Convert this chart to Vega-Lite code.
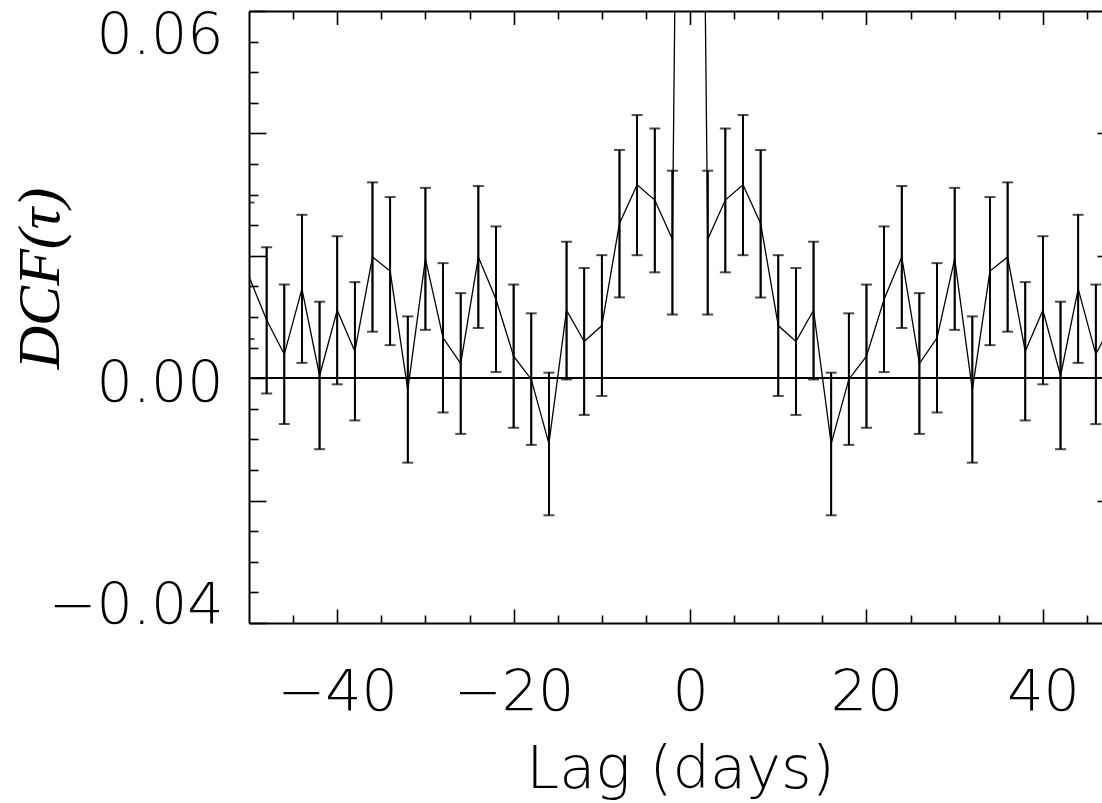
{
  "$schema": "https://vega.github.io/schema/vega-lite/v6.json",
  "width": 853,
  "height": 612,
  "autosize": {"type": "none"},
  "padding": {"left": 249, "top": 11, "right": 0, "bottom": 180},
  "background": "white",
  "config": {
    "view": {"stroke": null},
    "axis": {"domainColor": "black", "tickColor": "black", "labelColor": "black", "titleColor": "black", "grid": false, "domainWidth": 2, "tickWidth": 1.6, "zindex": 1}
  },
  "data": {
    "values": [
      {"lag": -50, "dcf": 0.0166, "lo": 0.0064, "hi": 0.0287},
      {"lag": -48, "dcf": 0.0095, "lo": -0.0025, "hi": 0.0214},
      {"lag": -46, "dcf": 0.0039, "lo": -0.0075, "hi": 0.0153},
      {"lag": -44, "dcf": 0.0146, "lo": 0.0025, "hi": 0.0267},
      {"lag": -42, "dcf": 0.0004, "lo": -0.0116, "hi": 0.0125},
      {"lag": -40, "dcf": 0.0111, "lo": -0.0010, "hi": 0.0232},
      {"lag": -38, "dcf": 0.0044, "lo": -0.0069, "hi": 0.0157},
      {"lag": -36, "dcf": 0.0198, "lo": 0.0076, "hi": 0.0320},
      {"lag": -34, "dcf": 0.0175, "lo": 0.0054, "hi": 0.0296},
      {"lag": -32, "dcf": -0.0019, "lo": -0.0138, "hi": 0.0101},
      {"lag": -30, "dcf": 0.0195, "lo": 0.0079, "hi": 0.0311},
      {"lag": -28, "dcf": 0.0066, "lo": -0.0056, "hi": 0.0188},
      {"lag": -26, "dcf": 0.0024, "lo": -0.0091, "hi": 0.0139},
      {"lag": -24, "dcf": 0.0198, "lo": 0.0082, "hi": 0.0314},
      {"lag": -22, "dcf": 0.0129, "lo": 0.0010, "hi": 0.0248},
      {"lag": -20, "dcf": 0.0036, "lo": -0.0081, "hi": 0.0153},
      {"lag": -18, "dcf": -0.0002, "lo": -0.0109, "hi": 0.0106},
      {"lag": -16, "dcf": -0.0107, "lo": -0.0224, "hi": 0.0009},
      {"lag": -14, "dcf": 0.0111, "lo": -0.0002, "hi": 0.0223},
      {"lag": -12, "dcf": 0.0060, "lo": -0.0060, "hi": 0.0180},
      {"lag": -10, "dcf": 0.0086, "lo": -0.0029, "hi": 0.0201},
      {"lag": -8, "dcf": 0.0253, "lo": 0.0132, "hi": 0.0373},
      {"lag": -6, "dcf": 0.0316, "lo": 0.0201, "hi": 0.0430},
      {"lag": -4, "dcf": 0.0291, "lo": 0.0173, "hi": 0.0408},
      {"lag": -2, "dcf": 0.0227, "lo": 0.0104, "hi": 0.0339},
      {"lag": 0, "dcf": 0.30, "lo": 0.27, "hi": 0.33},
      {"lag": 2, "dcf": 0.0227, "lo": 0.0104, "hi": 0.0339},
      {"lag": 4, "dcf": 0.0291, "lo": 0.0173, "hi": 0.0408},
      {"lag": 6, "dcf": 0.0316, "lo": 0.0201, "hi": 0.0430},
      {"lag": 8, "dcf": 0.0253, "lo": 0.0132, "hi": 0.0373},
      {"lag": 10, "dcf": 0.0086, "lo": -0.0029, "hi": 0.0201},
      {"lag": 12, "dcf": 0.0060, "lo": -0.0060, "hi": 0.0180},
      {"lag": 14, "dcf": 0.0111, "lo": -0.0002, "hi": 0.0223},
      {"lag": 16, "dcf": -0.0107, "lo": -0.0224, "hi": 0.0009},
      {"lag": 18, "dcf": -0.0002, "lo": -0.0109, "hi": 0.0106},
      {"lag": 20, "dcf": 0.0036, "lo": -0.0081, "hi": 0.0153},
      {"lag": 22, "dcf": 0.0129, "lo": 0.0010, "hi": 0.0248},
      {"lag": 24, "dcf": 0.0198, "lo": 0.0082, "hi": 0.0314},
      {"lag": 26, "dcf": 0.0024, "lo": -0.0091, "hi": 0.0139},
      {"lag": 28, "dcf": 0.0066, "lo": -0.0056, "hi": 0.0188},
      {"lag": 30, "dcf": 0.0195, "lo": 0.0079, "hi": 0.0311},
      {"lag": 32, "dcf": -0.0019, "lo": -0.0138, "hi": 0.0101},
      {"lag": 34, "dcf": 0.0175, "lo": 0.0054, "hi": 0.0296},
      {"lag": 36, "dcf": 0.0198, "lo": 0.0076, "hi": 0.0320},
      {"lag": 38, "dcf": 0.0044, "lo": -0.0069, "hi": 0.0157},
      {"lag": 40, "dcf": 0.0111, "lo": -0.0010, "hi": 0.0232},
      {"lag": 42, "dcf": 0.0004, "lo": -0.0116, "hi": 0.0125},
      {"lag": 44, "dcf": 0.0146, "lo": 0.0025, "hi": 0.0267},
      {"lag": 46, "dcf": 0.0039, "lo": -0.0075, "hi": 0.0153},
      {"lag": 48, "dcf": 0.0095, "lo": -0.0025, "hi": 0.0214}
    ]
  },
  "resolve": {"scale": {"x": "shared", "y": "shared"}, "axis": {"x": "independent", "y": "independent"}},
  "layer": [
    {
      "mark": {"type": "rule", "color": "black", "strokeWidth": 1.8, "clip": true},
      "encoding": {
        "x": {"field": "lag", "type": "quantitative", "scale": {"domain": [-50, 46.7], "nice": false, "zero": false},
          "axis": {"orient": "bottom", "values": [-45, -35, -30, -25, -15, -10, -5, 5, 10, 15, 25, 30, 35, 45], "tickSize": -8, "labels": false, "domain": true, "title": null}},
        "y": {"field": "lo", "type": "quantitative", "scale": {"domain": [-0.04, 0.06], "nice": false, "zero": false},
          "axis": {"orient": "left", "values": [-0.035, -0.03, -0.025, -0.015, -0.01, -0.005, 0.005, 0.01, 0.015, 0.025, 0.03, 0.035, 0.045, 0.05, 0.055], "tickSize": -9, "labels": false, "domain": true, "title": null}},
        "y2": {"field": "hi"}
      }
    },
    {
      "mark": {"type": "tick", "color": "black", "orient": "horizontal", "size": 11, "thickness": 2, "clip": true},
      "encoding": {
        "x": {"field": "lag", "type": "quantitative", "scale": {"domain": [-50, 46.7], "nice": false, "zero": false},
          "axis": {"orient": "bottom", "values": [-40, -20, 0, 20, 40], "tickSize": -14, "labels": false, "domain": false, "title": null}},
        "y": {"field": "hi", "type": "quantitative", "scale": {"domain": [-0.04, 0.06], "nice": false, "zero": false},
          "axis": {"orient": "left", "values": [-0.04, -0.02, 0, 0.02, 0.04, 0.06], "tickSize": -17, "labels": false, "domain": false, "title": null}}
      }
    },
    {
      "mark": {"type": "tick", "color": "black", "orient": "horizontal", "size": 11, "thickness": 2, "clip": true},
      "encoding": {
        "x": {"field": "lag", "type": "quantitative", "scale": {"domain": [-50, 46.7], "nice": false, "zero": false},
          "axis": {"orient": "bottom", "values": [-40, -20, 0, 20, 40], "ticks": false, "domain": false, "format": "d",
            "labelFont": "DejaVu Sans", "labelFontSize": 57, "labelFontWeight": 300, "labelBaseline": "alphabetic", "labelPadding": 87, "labelFlush": false, "labelOverlap": false, "labelBound": false,
            "title": "Lag (days)", "titleFont": "DejaVu Sans", "titleFontSize": 59, "titleFontWeight": 300, "titleBaseline": "alphabetic", "titleAlign": "center", "titleX": 431, "titleY": 164}},
        "y": {"field": "lo", "type": "quantitative", "scale": {"domain": [-0.04, 0.06], "nice": false, "zero": false},
          "axis": {"orient": "left", "values": [-0.04, 0, 0.06], "ticks": false, "domain": false, "format": ".2f",
            "labelFont": "DejaVu Sans", "labelFontSize": 57, "labelFontWeight": 300, "labelAlign": "right", "labelBaseline": "alphabetic", "labelPadding": 26, "labelFlush": false, "labelOverlap": false, "labelBound": false,
            "labelOffset": {"condition": [{"test": "datum.value > 0.05", "value": 42}, {"test": "datum.value > -0.01", "value": 23}], "value": 0},
            "title": "DCF(τ)", "titleFont": "Liberation Serif", "titleFontStyle": "italic", "titleFontSize": 60, "titleFontWeight": "normal", "titleAngle": -90, "titleBaseline": "alphabetic", "titleAlign": "center", "titleX": -191, "titleY": 267}}
      }
    },
    {
      "mark": {"type": "line", "color": "black", "strokeWidth": 1.3, "clip": true},
      "encoding": {
        "x": {"field": "lag", "type": "quantitative", "scale": {"domain": [-50, 46.7], "nice": false, "zero": false},
          "axis": {"orient": "top", "values": [-45, -35, -30, -25, -15, -10, -5, 5, 10, 15, 25, 30, 35, 45], "tickSize": -8, "labels": false, "domain": true, "title": null}},
        "y": {"field": "dcf", "type": "quantitative", "scale": {"domain": [-0.04, 0.06], "nice": false, "zero": false},
          "axis": {"orient": "right", "values": [-0.02, 0.02, 0.04], "tickSize": -5, "labels": false, "domain": false, "title": null}}
      }
    },
    {
      "mark": {"type": "rule", "color": "black", "strokeWidth": 1.8, "clip": true},
      "encoding": {
        "x": {"field": "lag", "type": "quantitative", "scale": {"domain": [-50, 46.7], "nice": false, "zero": false},
          "axis": {"orient": "top", "values": [-40, -20, 0, 20, 40], "tickSize": -13.5, "labels": false, "domain": false, "title": null}},
        "y": {"field": "lo", "type": "quantitative", "scale": {"domain": [-0.04, 0.06], "nice": false, "zero": false}, "axis": null},
        "y2": {"field": "hi"}
      }
    },
    {
      "mark": {"type": "rule", "color": "black", "strokeWidth": 1.5},
      "encoding": {
        "y": {"datum": 0, "type": "quantitative", "scale": {"domain": [-0.04, 0.06], "nice": false, "zero": false}, "axis": null}
      }
    }
  ]
}
